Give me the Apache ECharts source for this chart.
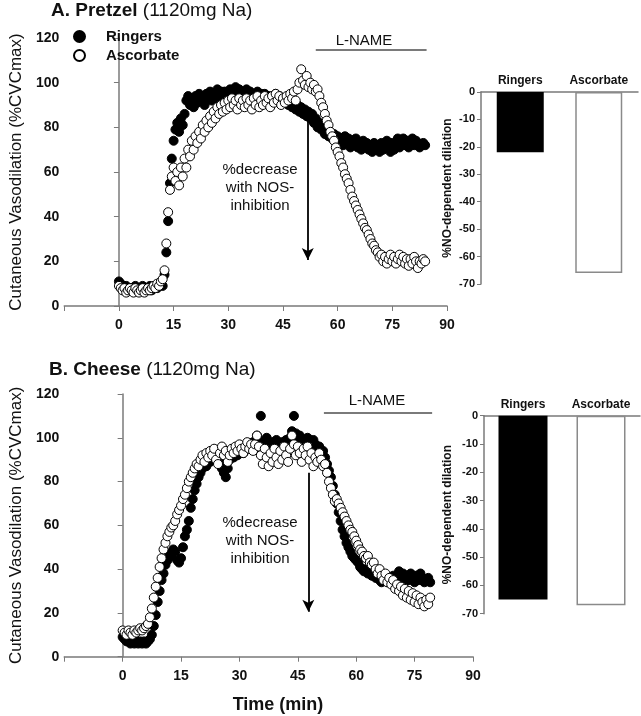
<!DOCTYPE html>
<html><head><meta charset="utf-8">
<script src="https://cdn.jsdelivr.net/npm/echarts@6/dist/echarts.min.js"></script>
<style>html,body{margin:0;padding:0;background:#fff}#c{width:641px;height:716px}</style>
</head><body><div id="c"></div>
<script>
// ---------- DATA ----------
const TIME_STEP = 0.5; // minutes between successive samples, first sample at t = 0
const timeTicks = [0, 15, 30, 45, 60, 75, 90];
const vasoTicks = [0, 20, 40, 60, 80, 100, 120];

const pretzelRingers = [
  11,10,9,8,9,7,8,8,7,9,
  8,7,8,9,7,8,8,9,7,8,
  9,8,9,10,9,14,24,38,55,66,
  74,79,82,78,84,81,86,92,94,90,
  93,89,94,91,95,92,94,90,95,93,
  96,92,95,93,97,94,96,93,96,94,
  95,97,94,96,98,95,97,94,96,95,
  97,93,96,94,95,93,96,94,95,92,
  95,93,94,92,94,93,95,92,94,91,
  93,91,92,90,91,89,90,88,90,87,
  89,86,88,85,87,84,86,82,84,80,
  82,79,81,77,80,76,78,75,77,74,
  76,73,75,72,76,73,75,71,74,72,
  75,71,73,70,74,71,73,70,72,69,
  73,70,72,69,73,70,71,74,71,69,
  73,70,72,75,71,73,75,72,74,71,
  73,75,72,74,73,71,72,73,72
];
const pretzelAscorbate = [
  9,8,7,8,6,7,8,7,6,8,
  7,6,7,8,6,7,8,7,8,9,
  8,10,9,11,12,16,28,42,52,58,
  62,56,60,54,62,58,66,62,70,67,
  74,70,76,73,78,75,81,78,83,80,
  85,82,87,84,89,86,90,87,91,88,
  92,89,93,90,92,88,93,90,92,89,
  93,90,92,88,93,90,94,89,92,90,
  94,91,93,89,94,91,95,92,94,90,
  93,91,94,92,95,93,96,92,97,100,
  106,101,99,103,98,100,97,99,96,97,
  94,91,89,86,83,81,78,76,74,71,
  69,67,64,62,59,57,55,52,49,47,
  45,43,41,39,37,35,34,32,30,28,
  27,25,24,22,23,20,22,19,21,23,
  20,22,19,21,23,20,22,19,21,18,
  21,19,22,20,17,20,19,21,20
];
const cheeseRingers = [
  9,8,7,8,6,7,6,7,6,7,
  6,7,6,7,8,10,14,19,25,30,
  35,38,42,44,47,46,49,48,44,43,
  45,50,55,58,62,68,72,76,79,82,
  84,86,88,87,90,89,91,92,90,93,
  89,86,84,82,86,90,92,91,93,92,
  94,95,93,96,95,97,96,98,97,101,
  99,110,98,96,100,97,95,98,96,99,
  97,95,98,96,99,97,100,103,110,102,
  99,101,97,99,96,100,98,96,99,97,
  95,96,93,94,91,88,85,82,78,74,
  70,66,62,58,55,52,50,48,46,45,
  44,43,41,40,39,40,38,39,37,38,
  36,37,35,34,37,35,34,36,35,37,
  34,37,39,35,38,34,37,35,38,36,
  34,37,35,38,36,34,35,36,34
];
const cheeseAscorbate = [
  12,11,10,12,11,10,12,11,12,13,
  12,13,14,15,18,22,27,32,36,41,
  45,49,52,55,57,59,60,62,65,67,
  69,72,74,77,80,82,84,86,88,87,
  90,92,89,93,91,94,92,95,90,88,
  93,96,92,94,89,92,95,93,96,94,
  97,95,93,96,98,95,97,94,97,101,
  96,92,88,95,91,87,93,89,95,91,
  88,94,90,96,92,89,95,101,97,92,
  96,93,89,95,92,96,90,93,87,91,
  89,93,90,87,88,84,80,77,74,71,
  72,70,68,66,64,62,60,58,57,55,
  53,51,49,48,46,45,46,43,42,43,
  40,38,40,37,35,38,34,36,33,35,
  31,33,30,32,28,31,27,30,26,29,
  25,28,24,27,25,23,26,24,27
];

const barCategories = ['Ringers', 'Ascorbate'];
const pretzelNO = [-22, -66];
const cheeseNO = [-65, -67];
const noTicks = [0, -10, -20, -30, -40, -50, -60, -70];

// annotation anchors (data coordinates)
const pretzelLName = [54, 84.4, 114.6];
const pretzelArrow = [51.8, 83.3, 20.6];
const cheeseLName = [51.7, 79.5, 111.6];
const cheeseArrow = [47.7, 84, 20.5];

// ---------- CHART ----------
const FONT = 'Liberation Sans, Arial, sans-serif';
const AX = '#7a7a7a';
const toPts = arr => arr.map((v, i) => [i * TIME_STEP, v]);

const chart = echarts.init(document.getElementById('c'), null, {renderer: 'canvas'});

function timeAxis(gi) {
  return {
    type: 'value', gridIndex: gi, min: -15, max: 90, interval: 15,
    axisLine: {show: true, onZero: false, lineStyle: {color: AX, width: 1.5}},
    axisTick: {show: true, length: 5, lineStyle: {color: AX}},
    axisLabel: {margin: 12, fontFamily: FONT, fontWeight: 'bold', fontSize: 14, color: '#111',
      formatter: v => timeTicks.indexOf(v) >= 0 ? String(v) : ''},
    splitLine: {show: false}
  };
}
function vasoAxis(gi) {
  return {
    type: 'value', gridIndex: gi, min: 0, max: 120, interval: 20, offset: -4,
    name: 'Cutaneous Vasodilation (%CVCmax)', nameLocation: 'middle', nameGap: 40,
    nameTextStyle: {fontFamily: FONT, fontSize: 17, color: '#111'},
    axisLine: {show: true, lineStyle: {color: AX, width: 1.5}},
    axisTick: {show: true, length: 5, lineStyle: {color: AX}},
    axisLabel: {margin: 9, fontFamily: FONT, fontWeight: 'bold', fontSize: 14, color: '#111',
      formatter: v => vasoTicks.indexOf(v) >= 0 ? String(v) : ''},
    splitLine: {show: false}
  };
}
function catAxis(gi) {
  return {
    type: 'category', gridIndex: gi, position: 'top', data: barCategories,
    axisLine: {show: true, lineStyle: {color: AX, width: 1.5}},
    axisTick: {show: false},
    axisLabel: {margin: 5, fontFamily: FONT, fontWeight: 'bold', fontSize: 12, color: '#111'}
  };
}
function noAxis(gi, gap) {
  return {
    type: 'value', gridIndex: gi, min: -70, max: 0, interval: 10,
    name: '%NO-dependent dilation', nameLocation: 'middle', nameGap: gap,
    nameTextStyle: {fontFamily: FONT, fontSize: 12, fontWeight: 'bold', color: '#111'},
    axisLine: {show: true, lineStyle: {color: AX, width: 1.5}},
    axisTick: {show: true, length: 4, lineStyle: {color: AX}},
    axisLabel: {margin: 6, fontFamily: FONT, fontWeight: 'bold', fontSize: 11, color: '#111',
      formatter: v => noTicks.indexOf(v) >= 0 ? String(v) : ''},
    splitLine: {show: false}
  };
}
function annot(lname, arrow) {
  return {
    silent: true, animation: false, symbol: ['none', 'none'], label: {show: false},
    data: [
      [{coord: [lname[0], lname[2]], lineStyle: {color: '#7a7a7a', width: 2, type: 'solid'}},
       {coord: [lname[1], lname[2]]}],
      [{coord: [arrow[0], arrow[1]], symbol: 'none', lineStyle: {color: '#000', width: 1.8, type: 'solid'}},
       {coord: [arrow[0], arrow[2]], symbol: 'arrow', symbolSize: [9, 12]}]
    ]
  };
}
const ringersStyle = {color: '#000', borderColor: '#000', borderWidth: 1, opacity: 1};
const ascStyle = {color: '#fff', borderColor: '#000', borderWidth: 1, opacity: 1};
const barStyles = [
  {color: '#000', borderColor: '#000', borderWidth: 0},
  {color: '#fff', borderColor: '#8a8a8a', borderWidth: 1.5}
];
const barData = vals => vals.map((v, i) => ({value: v, itemStyle: barStyles[i]}));

const titleRich = {
  b: {fontFamily: FONT, fontWeight: 'bold', fontSize: 19, color: '#111'},
  n: {fontFamily: FONT, fontWeight: 'normal', fontSize: 19, color: '#111'}
};
const titleStyle = {fontWeight: 'normal', fontFamily: FONT, fontSize: 19, color: '#111', rich: titleRich};

chart.setOption({
  animation: false,
  backgroundColor: '#fff',
  title: [
    {left: 51, top: 1, padding: 0, text: '{b|A. Pretzel} {n|(1120mg Na)}', textStyle: titleStyle},
    {left: 49, top: 360, padding: 0, text: '{b|B. Cheese} {n|(1120mg Na)}', textStyle: titleStyle}
  ],
  legend: {
    left: 73, top: 29, orient: 'vertical', padding: 0, itemGap: 4,
    itemWidth: 11, itemHeight: 11, selectedMode: false,
    data: ['Ringers', 'Ascorbate'],
    textStyle: {fontFamily: FONT, fontWeight: 'bold', fontSize: 15, color: '#111', padding: [0, 0, 0, 16]}
  },
  grid: [
    {left: 57, top: 38, width: 390, height: 268},
    {left: 58, top: 394, width: 415, height: 262.7},
    {left: 481, top: 92, width: 157, height: 192},
    {left: 484, top: 415.7, width: 156, height: 198}
  ],
  xAxis: [timeAxis(0), timeAxis(1), catAxis(2), catAxis(3)],
  yAxis: [vasoAxis(0), vasoAxis(1), noAxis(2, 27), noAxis(3, 30)],
  series: [
    {name: 'Ringers', type: 'scatter', xAxisIndex: 0, yAxisIndex: 0, symbol: 'circle', symbolSize: 9,
      itemStyle: ringersStyle, data: toPts(pretzelRingers)},
    {name: 'Ascorbate', type: 'scatter', xAxisIndex: 0, yAxisIndex: 0, symbol: 'circle', symbolSize: 9,
      itemStyle: ascStyle, data: toPts(pretzelAscorbate), markLine: annot(pretzelLName, pretzelArrow)},
    {name: 'Ringers', type: 'scatter', xAxisIndex: 1, yAxisIndex: 1, symbol: 'circle', symbolSize: 9,
      itemStyle: ringersStyle, data: toPts(cheeseRingers)},
    {name: 'Ascorbate', type: 'scatter', xAxisIndex: 1, yAxisIndex: 1, symbol: 'circle', symbolSize: 9,
      itemStyle: ascStyle, data: toPts(cheeseAscorbate), markLine: annot(cheeseLName, cheeseArrow)},
    {type: 'bar', xAxisIndex: 2, yAxisIndex: 2, barWidth: 47, data: barData(pretzelNO)},
    {type: 'bar', xAxisIndex: 3, yAxisIndex: 3, barWidth: 49, data: barData(cheeseNO)}
  ],
  graphic: [
    {type: 'text', x: 364, y: 41, style: {text: 'L-NAME', fontFamily: FONT, fontSize: 15, fill: '#111', align: 'center', verticalAlign: 'middle'}},
    {type: 'text', x: 377, y: 401, style: {text: 'L-NAME', fontFamily: FONT, fontSize: 15, fill: '#111', align: 'center', verticalAlign: 'middle'}},
    {type: 'text', x: 260, y: 161, style: {text: '%decrease\nwith NOS-\ninhibition', fontFamily: FONT, fontSize: 15, lineHeight: 18, fill: '#111', align: 'center', verticalAlign: 'top'}},
    {type: 'text', x: 260, y: 513.5, style: {text: '%decrease\nwith NOS-\ninhibition', fontFamily: FONT, fontSize: 15, lineHeight: 18, fill: '#111', align: 'center', verticalAlign: 'top'}},
    {type: 'text', x: 278, y: 705, style: {text: 'Time (min)', fontFamily: FONT, fontSize: 18, fontWeight: 'bold', fill: '#111', align: 'center', verticalAlign: 'middle'}}
  ]
});
</script>
</body></html>
